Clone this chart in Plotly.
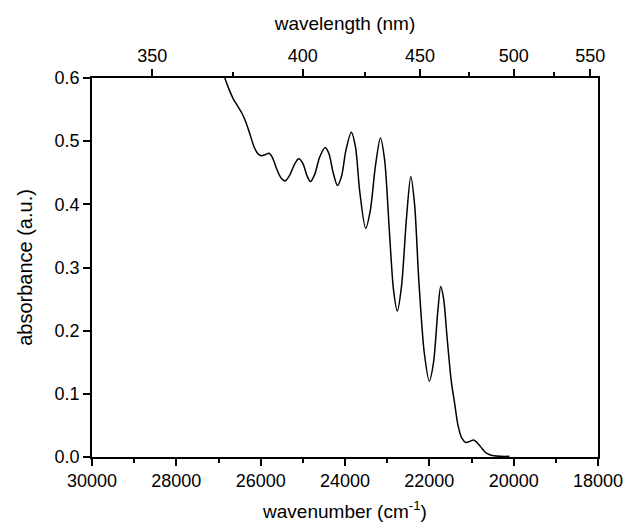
import plotly.graph_objects as go

# wavenumber (cm^-1) and absorbance
wavenumber = [26920, 26850, 26750, 26650, 26550, 26450, 26350, 26250, 26150, 26050,
              25980, 25880, 25800, 25720, 25620, 25520, 25420, 25320, 25200, 25100,
              25000, 24900, 24820, 24720, 24600, 24470, 24380, 24280, 24180, 24080,
              23980, 23850, 23750, 23650, 23510, 23400, 23280, 23160, 23060, 22950,
              22850, 22760, 22660, 22540, 22440, 22350, 22250, 22120, 22000, 21900,
              21800, 21730, 21660, 21580, 21480, 21400, 21320, 21230, 21130, 21030,
              20950, 20870, 20780, 20680, 20580, 20470, 20300, 20100]
absorbance = [0.615, 0.600, 0.582, 0.567, 0.556, 0.545, 0.530, 0.510, 0.490, 0.479,
              0.477, 0.479, 0.481, 0.474, 0.456, 0.442, 0.437, 0.445, 0.463, 0.472,
              0.465, 0.445, 0.436, 0.447, 0.475, 0.490, 0.480, 0.450, 0.430, 0.445,
              0.485, 0.514, 0.490, 0.420, 0.362, 0.390, 0.460, 0.505, 0.470, 0.360,
              0.265, 0.231, 0.270, 0.380, 0.444, 0.400, 0.280, 0.165, 0.120, 0.150,
              0.230, 0.270, 0.250, 0.190, 0.120, 0.085, 0.050, 0.030, 0.023, 0.025,
              0.027, 0.023, 0.016, 0.008, 0.004, 0.002, 0.001, 0.001]

wn_ticks = [30000, 28000, 26000, 24000, 22000, 20000, 18000]
wl_major = [350, 400, 450, 500, 550]
wl_minor = [375, 425, 475, 525]
y_ticks = [0.0, 0.1, 0.2, 0.3, 0.4, 0.5, 0.6]

FONT = "Liberation Sans, Arial, sans-serif"
TICK_SIZE = 18
TITLE_SIZE = 19

fig = go.Figure()
fig.add_trace(go.Scatter(x=wavenumber, y=absorbance, mode="lines",
                         line=dict(color="black", width=1.5, shape="spline", smoothing=0.8),
                         showlegend=False, hoverinfo="skip"))
fig.add_trace(go.Scatter(x=wavenumber, y=absorbance, mode="lines", xaxis="x2",
                         line=dict(color="rgba(0,0,0,0)", width=0),
                         showlegend=False, hoverinfo="skip"))

axis_common = dict(showline=True, linecolor="black", linewidth=1.5, showgrid=False,
                   zeroline=False, ticks="outside", ticklen=7, tickwidth=1.5,
                   tickcolor="black", tickfont=dict(family=FONT, size=TICK_SIZE, color="black"))

fig.update_layout(
    width=635, height=531,
    margin=dict(l=92, r=29, t=78, b=67),
    plot_bgcolor="white", paper_bgcolor="white",
    font=dict(family=FONT, size=TICK_SIZE, color="black"),
    xaxis=dict(range=[30000, 18000], tickmode="array", tickvals=wn_ticks,
               ticktext=[str(v) for v in wn_ticks],
               mirror=True,
               minor=dict(ticks="outside", ticklen=4, tickwidth=1.5, tickcolor="black",
                          dtick=1000, tick0=18000, showgrid=False),
               title=dict(text="wavenumber (cm<sup>-1</sup>)", standoff=14,
                          font=dict(family=FONT, size=TITLE_SIZE)),
               **axis_common),
    xaxis2=dict(range=[30000, 18000], overlaying="x", side="top",
                tickmode="array", tickvals=[1e7 / w for w in wl_major],
                ticktext=[str(w) for w in wl_major],
                minor=dict(ticks="outside", ticklen=4, tickwidth=1.5, tickcolor="black",
                           tickmode="array", tickvals=[1e7 / w for w in wl_minor],
                           showgrid=False),
                title=dict(text="wavelength (nm)", standoff=10,
                           font=dict(family=FONT, size=TITLE_SIZE)),
                **axis_common),
    yaxis=dict(range=[0, 0.6], tickmode="array", tickvals=y_ticks,
               ticktext=[f"{v:.1f}" for v in y_ticks], mirror=True,
               title=dict(text="absorbance (a.u.)", standoff=17,
                          font=dict(family=FONT, size=20)),
               **axis_common),
)

fig.write_html("out.html")
